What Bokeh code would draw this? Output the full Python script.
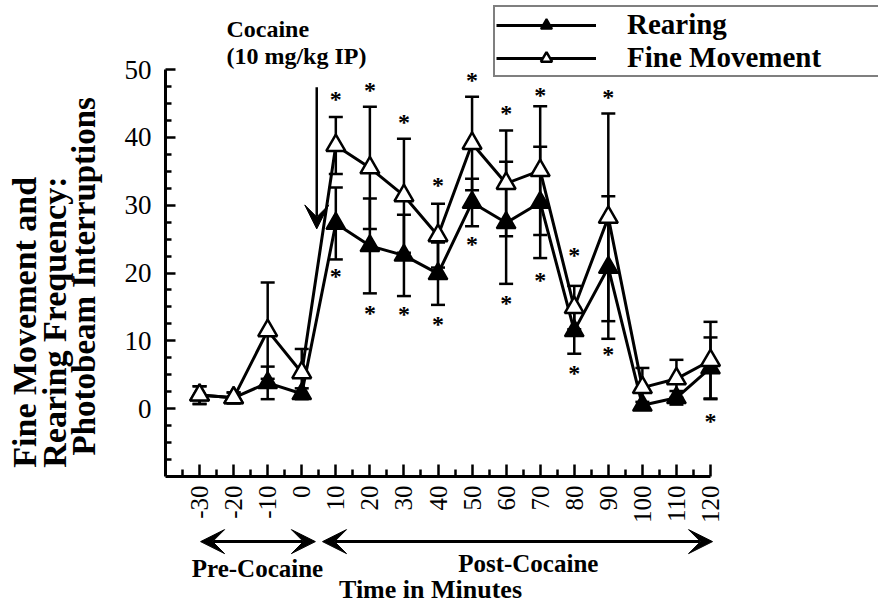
import math
from bokeh.plotting import figure
from bokeh.models import (ColumnDataSource, Whisker, TeeHead, FixedTicker, Label,
                          Arrow, VeeHead, Legend, LegendItem, Range1d, CustomJSTickFormatter)
from bokeh.core.properties import value
from bokeh.embed import file_html
from bokeh.resources import INLINE

# ---------------- data ----------------
time_min = [-30, -20, -10, 0, 10, 20, 30, 40, 50, 60, 70, 80, 90, 100, 110, 120]
rearing_mean = [2.0, 1.6, 3.8, 2.2, 27.3, 24.0, 22.6, 19.9, 30.4, 27.4, 30.4, 11.5, 20.8, 0.5, 1.6, 6.0]
rearing_sem = [1.3, 0.8, 2.4, 0.8, 5.3, 7.0, 6.0, 4.6, 3.5, 9.0, 8.2, 3.4, 10.5, 0.5, 1.0, 4.5]
fine_mean = [2.0, 1.6, 11.5, 5.3, 38.8, 35.5, 31.4, 25.5, 39.1, 33.2, 35.1, 14.9, 28.2, 3.1, 4.4, 7.1]
fine_sem = [1.3, 0.8, 7.1, 3.5, 4.2, 9.0, 8.4, 4.7, 6.9, 7.8, 9.5, 3.2, 15.3, 2.9, 2.8, 5.7]

star_above_t = [10, 20, 30, 40, 50, 60, 70, 80, 90]
star_above_y = [46.2, 47.6, 42.9, 33.6, 49.0, 44.2, 46.9, 23.2, 46.5]
star_below_t = [10, 20, 30, 40, 50, 60, 70, 80, 90, 120]
star_below_y = [20.1, 14.7, 14.5, 13.0, 24.8, 16.1, 19.6, 5.9, 8.6, -1.2]

x_major = [-30, -20, -10, 0, 10, 20, 30, 40, 50, 60, 70, 80, 90, 100, 110, 120]
x_minor = [-35, -25, -15, -5, 5, 15, 25, 35, 45, 55, 65, 75, 85, 95, 105, 115]
y_major = [0, 10, 20, 30, 40, 50]
y_minor = [-7.5, -5, -2.5, 2.5, 5, 7.5, 12.5, 15, 17.5, 22.5, 25, 27.5,
           32.5, 35, 37.5, 42.5, 45, 47.5]
X_AXIS = (-40, 120)
Y_AXIS = (-10, 50)

SERIF = "Liberation Serif"

# ---------------- layout: frame fills canvas, axes drawn at fixed locations -----------
W, H = 878, 603
ML, MR, MT, MB = 165, 168, 69, 127          # pixel margins around the axes box
sx = (W - ML - MR) / (X_AXIS[1] - X_AXIS[0])
sy = (H - MT - MB) / (Y_AXIS[1] - Y_AXIS[0])
x_range = Range1d(X_AXIS[0] - ML / sx, X_AXIS[1] + MR / sx)
y_range = Range1d(Y_AXIS[0] - MB / sy, Y_AXIS[1] + MT / sy)

p = figure(width=W, height=H, x_range=x_range, y_range=y_range, title=None,
           output_backend="svg", toolbar_location=None, min_border=0,
           min_border_left=0, min_border_right=0, min_border_top=0, min_border_bottom=0)
p.xgrid.visible = False
p.ygrid.visible = False
p.outline_line_color = None
p.background_fill_color = "white"
p.border_fill_color = "white"

xa, ya = p.xaxis[0], p.yaxis[0]
xa.fixed_location = Y_AXIS[0]
ya.fixed_location = X_AXIS[0]
xa.bounds = X_AXIS
ya.bounds = Y_AXIS
for ax in (xa, ya):
    ax.axis_line_width = 3
    ax.axis_line_color = "black"
    ax.major_tick_line_width = 2.5
    ax.minor_tick_line_width = 2.5
    ax.major_tick_out = 0
    ax.minor_tick_out = 0
    ax.major_label_text_font = SERIF
    ax.major_label_text_color = "black"
    ax.formatter = CustomJSTickFormatter(code="return String(tick)")
xa.ticker = FixedTicker(ticks=x_major, minor_ticks=x_minor)
ya.ticker = FixedTicker(ticks=y_major, minor_ticks=y_minor)
xa.major_tick_in = 12
xa.minor_tick_in = 7
ya.major_tick_in = 10
ya.minor_tick_in = 6
xa.major_label_orientation = math.pi / 2
xa.major_label_text_font_size = "25px"
ya.major_label_text_font_size = "27px"
xa.major_label_standoff = 9
ya.major_label_standoff = 14

# ---------------- data sources ----------------
rs = ColumnDataSource(dict(t=time_min, m=rearing_mean,
                           lo=[m - s for m, s in zip(rearing_mean, rearing_sem)],
                           hi=[m + s for m, s in zip(rearing_mean, rearing_sem)]))
fs = ColumnDataSource(dict(t=time_min, m=fine_mean,
                           lo=[m - s for m, s in zip(fine_mean, fine_sem)],
                           hi=[m + s for m, s in zip(fine_mean, fine_sem)]))

for src in (rs, fs):
    w = Whisker(base="t", lower="lo", upper="hi", source=src, dimension="height",
                line_width=2.5, line_color="black", level="underlay",
                upper_head=TeeHead(size=14, line_width=2.5, line_color="black"),
                lower_head=TeeHead(size=14, line_width=2.5, line_color="black"))
    p.add_layout(w)

r_line = p.line("t", "m", source=rs, line_width=3, line_color="black")
f_line = p.line("t", "m", source=fs, line_width=3, line_color="black")
r_mark = p.scatter("t", "m", source=rs, marker="triangle", size=19,
                   fill_color="black", line_color="black", line_width=2)
f_mark = p.scatter("t", "m", source=fs, marker="triangle", size=19,
                   fill_color="white", line_color="black", line_width=2.5)

# significance stars
sa = ColumnDataSource(dict(t=star_above_t, y=star_above_y, s=["*"] * len(star_above_t)))
sb = ColumnDataSource(dict(t=star_below_t, y=star_below_y, s=["*"] * len(star_below_t)))
for src in (sa, sb):
    p.text("t", "y", text="s", source=src, text_font=value(SERIF), text_font_style="bold",
           text_font_size=value("24px"), text_align="center", text_baseline="middle",
           y_offset=4, text_color="black")

# ---------------- legend ----------------
legend = Legend(items=[LegendItem(label="Rearing", renderers=[r_line, r_mark]),
                       LegendItem(label="Fine Movement", renderers=[f_line, f_mark])],
                location=(493, 526), border_line_color="black", border_line_width=2.5,
                background_fill_color="white", background_fill_alpha=1.0,
                padding=1, spacing=0, margin=0, glyph_width=100, glyph_height=28,
                label_height=28, label_standoff=31, label_width=280,
                label_text_font=SERIF, label_text_font_style="bold",
                label_text_font_size="29px", label_text_color="black")
p.add_layout(legend)


def lab(x, y, text, size, align="left", baseline="alphabetic", angle=0.0):
    p.add_layout(Label(x=x, y=y, text=text, angle=angle, text_font=SERIF,
                       text_font_style="bold", text_font_size=size, text_align=align,
                       text_baseline=baseline, text_color="black"))


# ---------------- cocaine injection annotation ----------------
lab(-22.1, 56.0, "Cocaine", "24px")
lab(-22.1, 52.0, "(10 mg/kg IP)", "24px")
p.add_layout(Arrow(x_start=4.4, y_start=47.4, x_end=4.4, y_end=26.5, line_width=2.5,
                   line_color="black",
                   end=VeeHead(size=24, fill_color="black", line_color="black")))

# ---------------- pre / post cocaine arrows and x title ----------------
for xs_, xe_ in ((-29.7, 4.0), (6.1, 120.6)):
    p.add_layout(Arrow(x_start=xs_, y_start=-19.6, x_end=xe_, y_end=-19.6, line_width=3,
                       line_color="black",
                       start=VeeHead(size=24, fill_color="black", line_color="black"),
                       end=VeeHead(size=24, fill_color="black", line_color="black")))
lab(-13.0, -23.5, "Pre-Cocaine", "25px", align="center")
lab(66.5, -22.8, "Post-Cocaine", "25px", align="center")
lab(37.8, -26.6, "Time in Minutes", "26px", align="center")

# ---------------- y-axis title (three rotated lines) ----------------
lab(-81.3, -8.7, "Fine Movement and", "34px", baseline="middle", angle=math.pi / 2)
lab(-72.5, -8.7, "Rearing Frequency:", "34px", baseline="middle", angle=math.pi / 2)
lab(-64.0, -6.9, "Photobeam Interruptions", "33px", baseline="middle", angle=math.pi / 2)

open("out.html", "w").write(file_html(p, INLINE))
